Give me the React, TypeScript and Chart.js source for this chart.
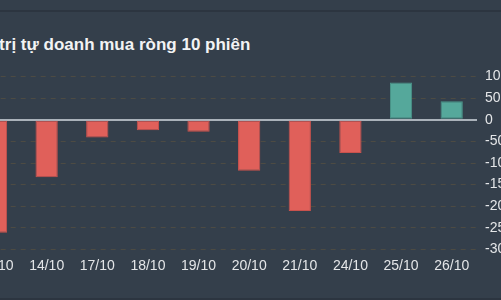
import React, { useEffect, useRef } from "react";
import { Chart, registerables } from "chart.js";

Chart.register(...registerables);

const categories = ["13/10", "14/10", "17/10", "18/10", "19/10", "20/10", "21/10", "24/10", "25/10", "26/10"];
const netBuy = [-261, -133, -41, -24, -28, -118, -211, -77, 86, 43];
const yMin = -300;
const yMax = 100;
const yStep = 50;
const title = "Giá trị tự doanh mua ròng 10 phiên";

const BG = "#343f4b";
const RED = "#e0605a";
const RED_B = "#c9524d";
const GREEN = "#55a89b";
const GREEN_B = "#4a968a";

export default function App() {
  const ref = useRef<HTMLCanvasElement | null>(null);
  useEffect(() => {
    if (!ref.current) return;
    const chart = new Chart(ref.current, {
      type: "bar",
      data: {
        labels: categories,
        datasets: [
          {
            data: netBuy,
            backgroundColor: netBuy.map((v) => (v >= 0 ? GREEN : RED)),
            borderColor: netBuy.map((v) => (v >= 0 ? GREEN_B : RED_B)),
            borderWidth: 1,
            borderSkipped: false,
            categoryPercentage: 1,
            barPercentage: 0.44,
          },
        ],
      },
      options: {
        animation: false,
        responsive: false,
        maintainAspectRatio: false,
        layout: { padding: { left: 30.7, right: 23, top: 76.5, bottom: 26.5 } },
        plugins: { legend: { display: false }, tooltip: { enabled: false }, title: { display: false } },
        scales: {
          x: {
            grid: { display: false, drawTicks: false },
            border: { display: false },
            ticks: {
              color: "#e4e6e8",
              font: { family: "Liberation Sans, Arial, sans-serif", size: 14 },
              padding: 8,
              maxRotation: 0,
              autoSkip: false,
            },
            afterFit: (s: any) => {
              s.height = 24;
            },
          },
          y: {
            position: "right",
            min: yMin,
            max: yMax,
            ticks: {
              stepSize: yStep,
              color: "#e4e6e8",
              font: { family: "Liberation Sans, Arial, sans-serif", size: 14 },
              padding: 8,
            },
            grid: {
              drawTicks: false,
              color: (ctx: any) => (ctx.tick && ctx.tick.value === 0 ? "#aab2ba" : "#4d4b43"),
              lineWidth: (ctx: any) => (ctx.tick && ctx.tick.value === 0 ? 2 : 1),
            },
            border: {
              display: false,
              dash: (ctx: any) => (ctx.tick && ctx.tick.value === 0 ? [] : [5, 5]),
            },
            afterFit: (s: any) => {
              s.width = 40;
            },
          },
        },
      },
    });
    return () => chart.destroy();
  }, []);

  return (
    <div
      style={{
        position: "absolute",
        left: 0,
        top: 0,
        width: 501,
        height: 300,
        overflow: "hidden",
        background: BG,
      }}
    >
      <div style={{ position: "absolute", left: 0, top: 10, width: 501, height: 2, background: "#2c3540" }} />
      <div style={{ position: "absolute", left: 0, top: 298, width: 501, height: 2, background: "#2c3540" }} />
      <div
        style={{
          position: "absolute",
          left: -33,
          top: 33,
          whiteSpace: "nowrap",
          color: "#f2f3f4",
          fontFamily: "Liberation Sans, Arial, sans-serif",
          fontWeight: "bold",
          fontSize: 17,
          lineHeight: "24px",
        }}
      >
        {title}
      </div>
      <div style={{ position: "absolute", left: -60, top: 0, width: 600, height: 300 }}>
        <canvas ref={ref} width={600} height={300} style={{ display: "block", width: 600, height: 300 }} />
      </div>
    </div>
  );
}
